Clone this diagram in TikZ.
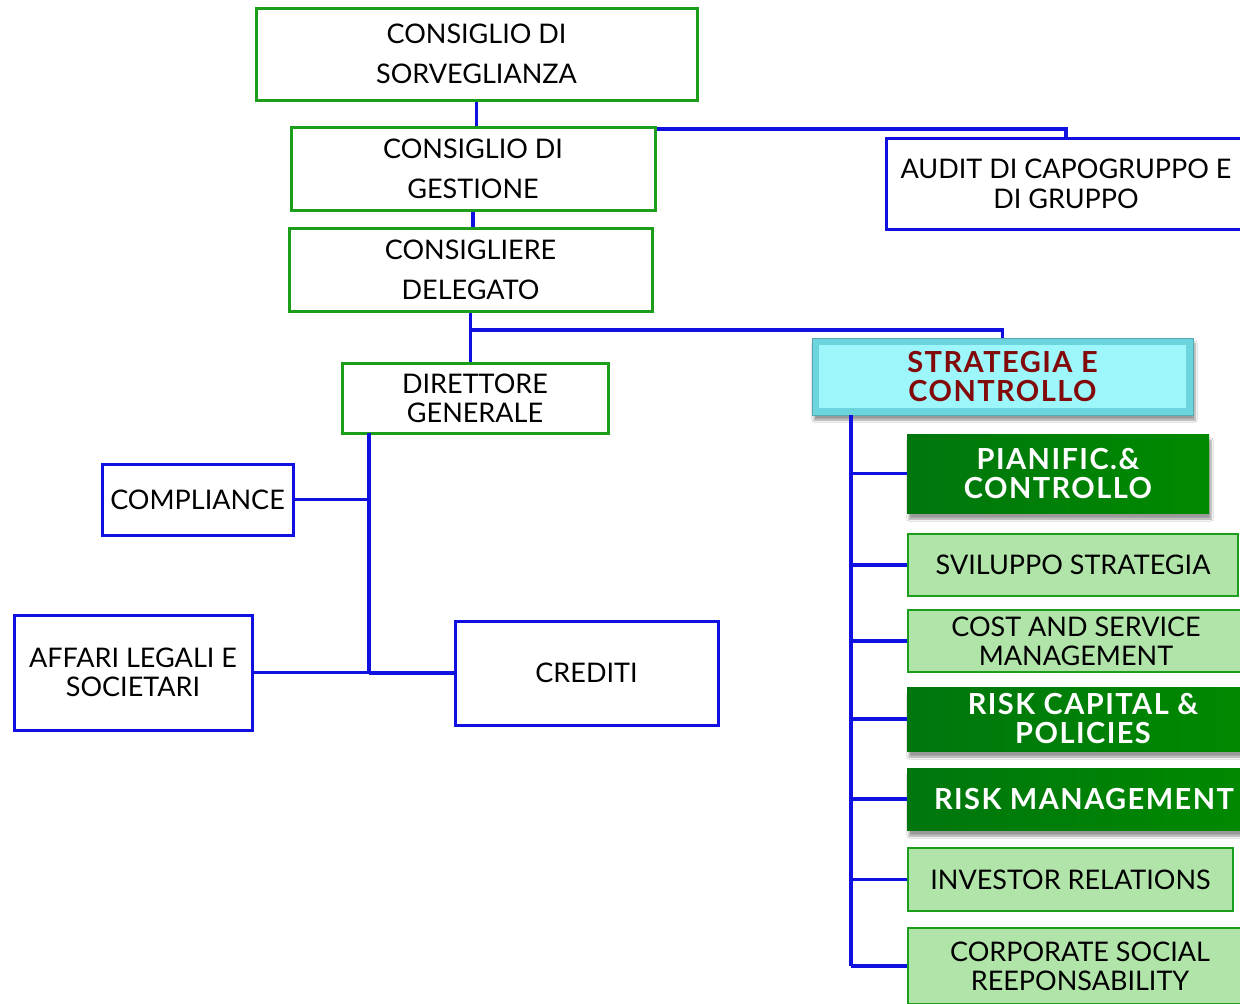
\documentclass[tikz,border=0pt]{standalone}
\usepackage{fontspec}
\setmainfont{Lato}
\newfontfamily\heavyfont{Lato}[LetterSpace=5]
\usetikzlibrary{shadows.blur}

\definecolor{linkblue}{HTML}{1010E0}
\definecolor{boxgreen}{HTML}{1C9E1C}
\definecolor{titlered}{HTML}{820A0A}
\definecolor{paleA}{HTML}{B0E4A8}
\definecolor{paleB}{HTML}{84D080}
\definecolor{deepA}{HTML}{00760E}
\definecolor{deepB}{HTML}{00A000}
\definecolor{deepC}{HTML}{008A00}
\definecolor{cyanedge}{HTML}{6CD4DC}
\definecolor{cyanface}{HTML}{9CF6FA}

\tikzset{
  conn/.style={draw=linkblue, line width=3.5pt},
  gbox/.style={draw=boxgreen, line width=3pt, fill=white, inner sep=0pt, align=center,
    font=\fontsize{27}{40}\selectfont},
  bbox/.style={draw=linkblue, line width=3pt, fill=white, inner sep=0pt, align=center,
    font=\fontsize{27}{30}\selectfont},
  palebox/.style={draw=boxgreen, line width=2.5pt, left color=paleA, middle color=paleB,
    right color=paleA, inner sep=0pt, align=center, font=\fontsize{27}{29}\selectfont},
  deepbox/.style={draw=none, left color=deepA, middle color=deepB, right color=deepC,
    text=white, inner sep=0pt, align=center, font=\heavyfont\bfseries\fontsize{29}{29}\selectfont,
    blur shadow={shadow xshift=2pt, shadow yshift=-6pt, shadow blur steps=6, shadow opacity=40}},
  headbox/.style={fill=cyanedge, draw=cyanedge!80!black, line width=1pt, inner sep=0pt,
    align=center, text=titlered, font=\heavyfont\bfseries\fontsize{29}{29}\selectfont,
    blur shadow={shadow xshift=2pt, shadow yshift=-5pt, shadow blur steps=6, shadow opacity=40},
    path picture={\fill[cyanface] ([shift={(7pt,7pt)}]path picture bounding box.south west)
      rectangle ([shift={(-7pt,-7pt)}]path picture bounding box.north east);}},
}

\begin{document}
\begin{tikzpicture}[x=1pt,y=-1pt]
\useasboundingbox[fill=white] (0,0) rectangle (1240,1004);

% governance chain
\node[gbox, minimum width=441pt, minimum height=92pt] (sorv) at (476.5,54) {CONSIGLIO DI\\SORVEGLIANZA};
\node[gbox, minimum width=364pt, minimum height=83pt] (gest) at (473,168.5) {CONSIGLIO DI\\GESTIONE};
\node[gbox, minimum width=363pt, minimum height=83pt] (deleg) at (470.5,269.5) {CONSIGLIERE\\DELEGATO};
\node[gbox, minimum width=266pt, minimum height=70pt, font=\fontsize{27}{29}\selectfont] (dir) at (475,398) {DIRETTORE\\GENERALE};

% staff units
\node[bbox, minimum width=360pt, minimum height=91pt] (audit) at (1066,183.5) {AUDIT DI CAPOGRUPPO E\\DI GRUPPO};
\node[bbox, minimum width=191pt, minimum height=71pt] (compl) at (197.5,499.5) {COMPLIANCE};
\node[bbox, minimum width=238pt, minimum height=115pt, font=\fontsize{27}{29}\selectfont] (legal) at (133,672.5) {AFFARI LEGALI E\\SOCIETARI};
\node[bbox, minimum width=263pt, minimum height=104pt] (cred) at (586.5,673) {CREDITI};

% strategy area
\node[headbox, minimum width=381pt, minimum height=77pt] (strat) at (1002.5,376.5) {STRATEGIA E\\CONTROLLO};
\node[deepbox, minimum width=302pt, minimum height=79pt] (pian) at (1058,473.5) {PIANIFIC.\&\\CONTROLLO};
\node[palebox, minimum width=330pt, minimum height=62pt] (svil) at (1073,565) {SVILUPPO STRATEGIA};
\node[palebox, minimum width=336pt, minimum height=62pt] (cost) at (1076,641) {COST AND SERVICE\\MANAGEMENT};
\node[deepbox, minimum width=352pt, minimum height=64pt] (rcap) at (1083,719) {RISK CAPITAL \&\\POLICIES};
\node[deepbox, minimum width=354pt, minimum height=62pt] (rmgmt) at (1084,799) {RISK MANAGEMENT};
\node[palebox, minimum width=325pt, minimum height=63pt] (inv) at (1070.5,879.5) {INVESTOR RELATIONS};
\node[palebox, minimum width=344pt, minimum height=76pt] (csr) at (1080,966) {CORPORATE SOCIAL\\REEPONSABILITY};

% junction points
\coordinate (auditturn) at (audit.north |- 0,129);
\coordinate (delegfork) at (deleg.south |- 0,330);
\coordinate (dirtrunk) at (369,433);
\coordinate (strattrunk) at (851,415);

% connectors
\draw[conn] (sorv.south) -- (sorv.south |- gest.north);
\draw[conn] (gest.east |- auditturn) -- (auditturn) -- (audit.north);
\draw[conn] (gest.south) -- (gest.south |- deleg.north);
\draw[conn] (deleg.south) -- (deleg.south |- dir.north);
\draw[conn] (delegfork) -| (strat.north);

\draw[conn] (dirtrunk) -- (dirtrunk |- cred.west);
\draw[conn] (compl.east) -- (compl.east -| dirtrunk);
\draw[conn] (legal.east) -- (legal.east -| dirtrunk);
\draw[conn] (cred.west) -- (cred.west -| dirtrunk);

\draw[conn] (strattrunk) -- (strattrunk |- csr.west);
\foreach \n in {pian,svil,cost,rcap,rmgmt,inv,csr}
  \draw[conn] (strattrunk |- \n.west) -- (\n.west);

\end{tikzpicture}
\end{document}
